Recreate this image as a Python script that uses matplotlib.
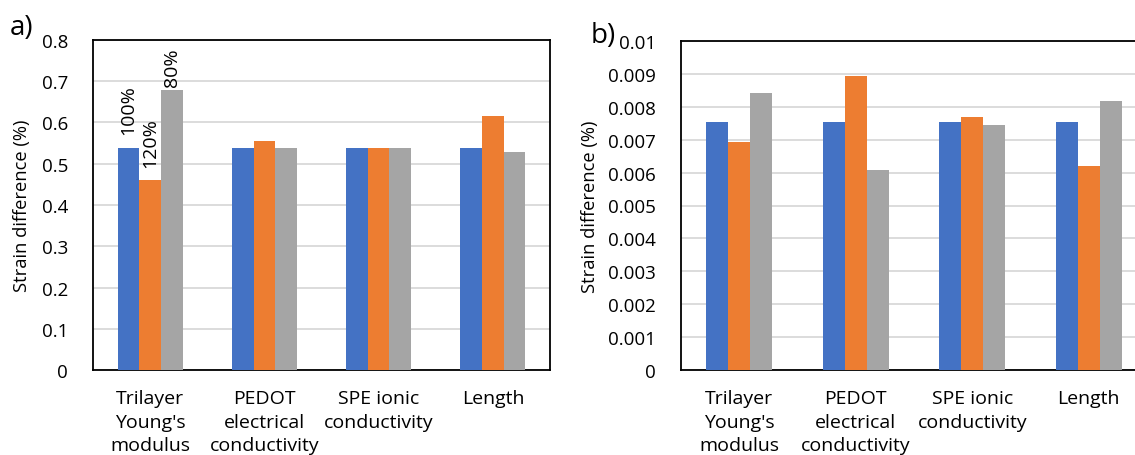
import numpy as np
import matplotlib
matplotlib.use("Agg")
import matplotlib.pyplot as plt

plt.rcParams["font.family"] = ["Open Sans", "DejaVu Sans"]

categories = ["Trilayer\nYoung's\nmodulus", "PEDOT\nelectrical\nconductivity",
              "SPE ionic\nconductivity", "Length"]
series_names = ["100%", "120%", "80%"]
colors = ["#4472C4", "#ED7D31", "#A5A5A5"]

# panel a) strain difference (%)
a_100 = [0.538, 0.538, 0.538, 0.538]
a_120 = [0.460, 0.554, 0.538, 0.616]
a_80 = [0.680, 0.538, 0.538, 0.528]

# panel b) strain difference (%)
b_100 = [0.00754, 0.00754, 0.00754, 0.00754]
b_120 = [0.00692, 0.00894, 0.00768, 0.00619]
b_80 = [0.00841, 0.00609, 0.00744, 0.00818]

W, H = 1135, 456
fig = plt.figure(figsize=(W / 100, H / 100), dpi=100)

ax_a = fig.add_axes([93 / W, 1 - 371 / H, (550 - 93) / W, (371 - 41) / H])
ax_b = fig.add_axes([681 / W, 1 - 371 / H, (1147 - 681) / W, (371 - 42) / H])

x = np.arange(len(categories))
bw = 0.19


def draw(ax, groups, ymax, step, fmt):
    for i, (vals, c) in enumerate(zip(groups, colors)):
        ax.bar(x + (i - 1) * bw, vals, width=bw, color=c, zorder=3)
    ax.set_xlim(-0.5, len(categories) - 0.5)
    ax.set_ylim(0, ymax)
    ticks = np.arange(0, ymax + step / 2, step)
    ax.set_yticks(ticks)
    ax.set_yticklabels([fmt(t) for t in ticks])
    ax.yaxis.grid(True, color="#D9D9D9", linewidth=1.3, zorder=0)
    ax.set_axisbelow(True)
    ax.set_xticks(x)
    ax.set_xticklabels(categories, fontsize=14, linespacing=1.38, va="top")
    ax.tick_params(axis="both", length=0)
    ax.tick_params(axis="y", labelsize=13.5, pad=18)
    ax.tick_params(axis="x", pad=14)
    for s in ax.spines.values():
        s.set_color("black")
        s.set_linewidth(1.3)
    ax.set_ylabel("Strain difference (%)", fontsize=13.2)


draw(ax_a, [a_100, a_120, a_80], 0.8, 0.1,
     lambda t: "0" if t == 0 else f"{t:.1f}")
draw(ax_b, [b_100, b_120, b_80], 0.01, 0.001,
     lambda t: "0" if t == 0 else ("0.01" if abs(t - 0.01) < 1e-9 else f"{t:.3f}"))

ax_a.yaxis.set_label_coords(-62 / 457, 0.5)
ax_b.yaxis.set_label_coords(-82 / 466, 0.5)

# series labels above the first group of panel a
label_y = [0.632, 0.552, 0.735]
for i, (name, yy) in enumerate(zip(series_names, label_y)):
    ax_a.text(x[0] + (i - 1) * bw, yy, name, rotation=90, ha="center",
              va="center", fontsize=14)

fig.text(10 / W, 1 - 28 / H, "a)", fontsize=20, ha="left", va="center")
fig.text(591 / W, 1 - 36 / H, "b)", fontsize=20, ha="left", va="center")

fig.savefig("out.png", dpi=100)
